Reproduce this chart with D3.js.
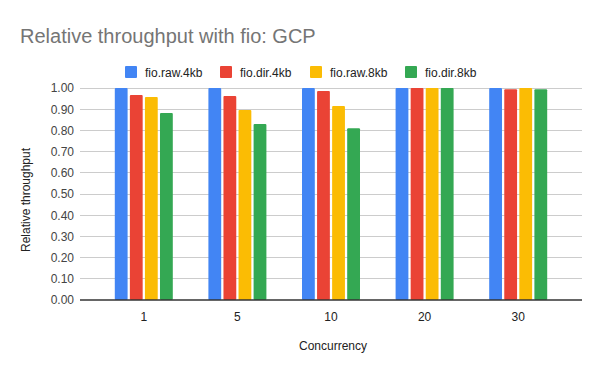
<!DOCTYPE html>
<html>
<head>
<meta charset="utf-8">
<script src="https://cdn.jsdelivr.net/npm/d3@7/dist/d3.min.js"></script>
<style>
  html, body { margin: 0; padding: 0; background: #fff; }
  svg { display: block; font-family: Arial, "Liberation Sans", sans-serif; }
</style>
</head>
<body>
<div id="chart"></div>
<script>
// Relative throughput with fio: GCP — grouped bars per concurrency level
const categories = ["1", "5", "10", "20", "30"];
const seriesNames = ["fio.raw.4kb", "fio.dir.4kb", "fio.raw.8kb", "fio.dir.8kb"];
const rawFour = [1.00, 1.00, 1.00, 1.00, 1.00];
const dirFour = [0.967, 0.962, 0.986, 1.00, 0.994];
const rawEight = [0.958, 0.896, 0.915, 1.00, 1.00];
const dirEight = [0.882, 0.830, 0.810, 1.00, 0.994];
const yTicks = [0, 0.1, 0.2, 0.3, 0.4, 0.5, 0.6, 0.7, 0.8, 0.9, 1.0];
const colors = ["#4285f4", "#ea4335", "#fbbc04", "#34a853"];

const seriesValues = [rawFour, dirFour, rawEight, dirEight];

const W = 600, H = 371;
const plot = { left: 80, right: 582, top: 88, bottom: 300 };

const svg = d3.select("#chart").append("svg").attr("width", W).attr("height", H);

const x0 = d3.scaleBand().domain(categories).range([97, 565]).padding(0);
const x1 = d3.scaleBand().domain(seriesNames).range([-29, 29]).paddingInner(0.15);
const y = d3.scaleLinear().domain([0, 1]).range([plot.bottom, plot.top]);

// Gitterlinien
svg.append("g").selectAll("line").data(yTicks.filter(t => t > 0)).join("line")
  .attr("x1", plot.left).attr("x2", plot.right)
  .attr("y1", d => y(d)).attr("y2", d => y(d))
  .attr("stroke", "#cccccc").attr("stroke-width", 1).attr("shape-rendering", "crispEdges");

// y-Achse (nur Beschriftung)
const yAxis = svg.append("g").attr("transform", `translate(${plot.left},0)`)
  .call(d3.axisLeft(y).tickValues(yTicks).tickFormat(d3.format(".2f")).tickSize(0).tickPadding(6));
yAxis.select(".domain").remove();
yAxis.selectAll("text").style("font-size", "12px").attr("fill", "#444");

// Balken
const rows = categories.map((c, i) => ({ cat: c, vals: seriesNames.map((s, j) => ({ s, j, v: seriesValues[j][i] })) }));
svg.append("g").selectAll("g").data(rows).join("g")
  .attr("transform", d => `translate(${x0(d.cat) + x0.bandwidth() / 2},0)`)
  .selectAll("rect").data(d => d.vals).join("rect")
  .attr("x", d => x1(d.s))
  .attr("width", x1.bandwidth())
  .attr("y", d => y(d.v))
  .attr("height", d => y(0) - y(d.v))
  .attr("rx", 1)
  .attr("fill", d => colors[d.j]);

// Grundlinie
svg.append("line")
  .attr("x1", plot.left).attr("x2", plot.right)
  .attr("y1", y(0)).attr("y2", y(0))
  .attr("stroke", "#333").attr("stroke-width", 1.3);

// x-Achse
const xAxis = svg.append("g").attr("transform", `translate(0,${plot.bottom})`)
  .call(d3.axisBottom(x0).tickSize(0).tickPadding(12));
xAxis.select(".domain").remove();
xAxis.selectAll("text").style("font-size", "12px").attr("fill", "#222");

// Titel
svg.append("text").attr("x", 20).attr("y", 43)
  .style("font-size", "20px").attr("fill", "#757575")
  .text("Relative throughput with fio: GCP");

// Achsentitel
svg.append("text").attr("x", 333).attr("y", 350)
  .attr("text-anchor", "middle").style("font-size", "12px").attr("fill", "#222")
  .text("Concurrency");
svg.append("text")
  .attr("transform", "translate(30,200) rotate(-90)")
  .attr("text-anchor", "middle").style("font-size", "12px").attr("fill", "#222")
  .text("Relative throughput");

// Legende
const legendX = [125, 220, 310, 405];
const lg = svg.append("g").selectAll("g").data(seriesNames).join("g")
  .attr("transform", (d, i) => `translate(${legendX[i]},66)`);
lg.append("rect").attr("width", 12).attr("height", 12).attr("rx", 1)
  .attr("fill", (d, i) => colors[i]);
lg.append("text").attr("x", 20).attr("y", 10.5)
  .style("font-size", "12px").attr("fill", "#222").text(d => d);
</script>
</body>
</html>
